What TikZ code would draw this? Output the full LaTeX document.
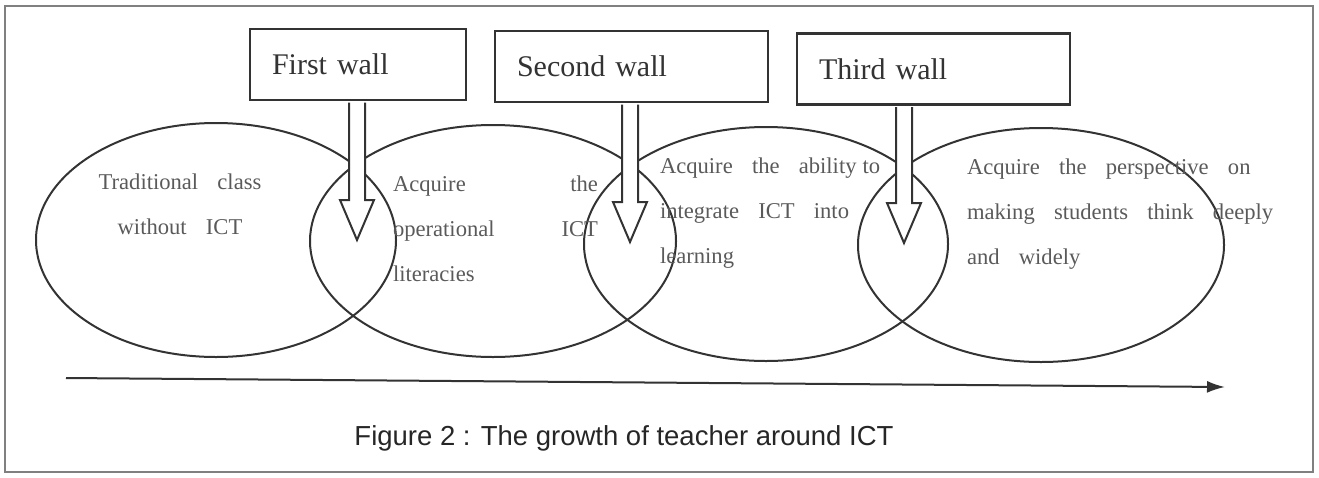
\documentclass[tikz,border=0pt]{standalone}
\usepackage{fontspec}
\setmainfont{Liberation Serif}
\newfontfamily\spacedserif[WordSpace=3.4]{Liberation Serif}
\newfontfamily\captionsans{Liberation Sans}
\usetikzlibrary{shapes.geometric, arrows.meta, calc}
\definecolor{inkgray}{HTML}{333333}
\definecolor{textgray}{HTML}{5A5A5A}

\begin{document}
\begin{tikzpicture}[x = 1pt, y = -1pt, line width = 2pt, color = inkgray,
                    stage/.style     = {ellipse, draw, inner sep = 0pt},
                    wallbox/.style   = {rectangle, draw, fill = white, line width = 2.5pt, inner xsep = 22pt, inner ysep = 0pt, minimum height = 71pt, align = left, font = \fontsize{30}{36}\selectfont},
                    stagetext/.style = {inner sep = 0pt, text = textgray, font = \spacedserif\fontsize{22.6}{45}\selectfont},
                    wallarrow/.style = {fill = white, line width = 2pt, line join = miter}
                    ]
    \useasboundingbox (0, 0) rectangle (1319, 477);
    \draw[line width = 2.5pt, draw = gray] (5, 6) rectangle (1313, 472);

    % stages
    \node[stage, minimum width = 360pt, minimum height = 234pt] (e1) at (216, 240) {};
    \node[stage, minimum width = 366pt, minimum height = 232pt] (e2) at (493, 241) {};
    \node[stage, minimum width = 364pt, minimum height = 234pt] (e3) at (766, 244) {};
    \node[stage, minimum width = 366pt, minimum height = 234pt] (e4) at (1041, 245) {};

    % walls
    \node[wallbox, text width = 172pt] (w1) at (358, 64.5) {First wall};
    \node[wallbox, text width = 229pt] (w2) at (631.5, 66.5) {Second wall};
    \node[wallbox, text width = 229pt] (w3) at (933.5, 69) {Third wall};

    \coordinate (t1) at (357, 240);
    \coordinate (t2) at (630, 242);
    \coordinate (t3) at (904, 243);

    \foreach \n in {1, 2, 3}
        \draw[wallarrow] ($(w\n.south -| t\n) + (-8, 1.3)$) -- ($(t\n) + (-8, -40)$) -- ($(t\n) + (-17, -40)$) -- (t\n)
                         -- ($(t\n) + (17, -40)$) -- ($(t\n) + (8, -40)$) -- ($(w\n.south -| t\n) + (8, 1.3)$);

    \node[stagetext, align = center, anchor = north] (s1) at (180, 172.6) {Traditional class\\without ICT};
    \node[stagetext, align = left, text width = 205pt, anchor = north west] (s2) at (392, 174.6) {Acquire\hfill the\\operational\hfill ICT\\literacies};
    \node[stagetext, align = left, anchor = north west] (s3) at (659, 156.6) {Acquire the ability\hspace{6pt}to\\integrate ICT into\\learning};
    \node[stagetext, align = left, anchor = north west] (s4) at (966, 157.6) {Acquire the perspective on\\making students think deeply\\and widely};

    % time axis
    \coordinate (a0) at (66, 378);
    \coordinate (a1) at (1225, 387);
    \draw[-{Latex[length = 18pt, width = 12pt]}] (a0) -- (a1);

    \node[font = \captionsans\fontsize{27.5}{33}\selectfont, text = black!85, anchor = base] (cap) at (624, 445) {Figure 2 : The growth of teacher around ICT};
\end{tikzpicture}
\end{document}
